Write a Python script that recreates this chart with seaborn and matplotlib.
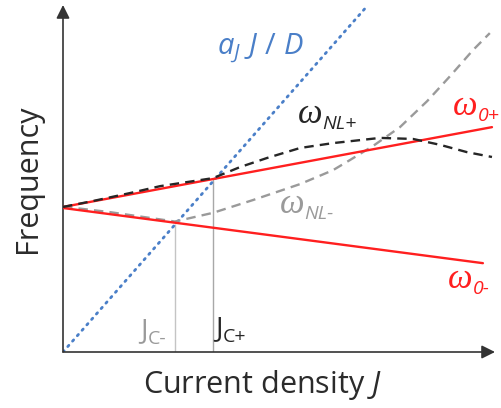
import matplotlib
matplotlib.use('Agg')
import matplotlib.pyplot as plt
import seaborn as sns

# valores (J e frequência em unidades arbitrárias)
j_w0_mais = [0.0, 9.93]
w0_mais = [4.18, 6.48]
j_w0_menos = [0.0, 9.72]
w0_menos = [4.15, 2.56]

j_aj = [0.0, 7.04]
aj_sobre_d = [0.0, 9.97]

j_nl_mais = [0, 0.69, 1.55, 2.25, 3.47, 4.10, 4.72, 5.49, 6.25, 7.34, 8.10, 8.73, 9.35, 9.93]
w_nl_mais = [4.18, 4.35, 4.58, 4.78, 5.01, 5.33, 5.59, 5.88, 6.02, 6.17, 6.14, 5.97, 5.76, 5.62]

j_nl_menos = [0, 1.09, 2.59, 3.47, 4.40, 5.49, 6.25, 6.64, 7.18, 7.80, 8.43, 8.96, 9.49, 9.88]
w_nl_menos = [4.19, 4.03, 3.76, 4.01, 4.38, 4.84, 5.24, 5.53, 5.94, 6.48, 7.23, 7.95, 8.70, 9.19]

j_criticos = [2.59, 3.47]
w_criticos = [3.70, 4.99]

vermelho = '#ff1f1f'
azul = '#4a7fc8'
cinza = '#9a9a9a'
preto = '#262626'

sns.set_style('white')
plt.rcParams['font.family'] = ['Open Sans', 'DejaVu Sans']
plt.rcParams['mathtext.fontset'] = 'custom'
plt.rcParams['mathtext.rm'] = 'Open Sans'
plt.rcParams['mathtext.it'] = 'Open Sans:italic'

fig = plt.figure(figsize=(5.02, 4.08), dpi=100)
ax = fig.add_axes([63 / 502, 56 / 408, 432 / 502, 347 / 408])
ax.set_xlim(0, 10)
ax.set_ylim(0, 10)
for s in ax.spines.values():
    s.set_visible(False)
ax.set_xticks([])
ax.set_yticks([])

# linhas verticais J_C
ax.vlines(j_criticos[0], 0, w_criticos[0], color='#c4c4c4', lw=1.0, zorder=1)
ax.vlines(j_criticos[1], 0, w_criticos[1], color='#a8a8a8', lw=1.0, zorder=1)

sns.lineplot(x=j_aj, y=aj_sobre_d, ax=ax, color=azul, lw=2.0,
             linestyle=(0, (0.6, 2.0)), dash_capstyle='round', zorder=2)
sns.lineplot(x=j_nl_menos, y=w_nl_menos, ax=ax, color=cinza, lw=1.7, sort=False,
             linestyle=(0, (4, 2.6)), zorder=3)
sns.lineplot(x=j_w0_mais, y=w0_mais, ax=ax, color=vermelho, lw=1.7, zorder=4)
sns.lineplot(x=j_w0_menos, y=w0_menos, ax=ax, color=vermelho, lw=1.7, zorder=4)
sns.lineplot(x=j_nl_mais, y=w_nl_mais, ax=ax, color=preto, lw=1.7, sort=False,
             linestyle=(0, (4, 2.6)), zorder=5)

# eixos com setas
seta = dict(arrowstyle='-|>', color='#333333', lw=1.2, mutation_scale=20,
            shrinkA=0, shrinkB=0)
ax.annotate('', xy=(1, 0), xytext=(0, 0), xycoords='axes fraction', arrowprops=seta)
ax.annotate('', xy=(0, 1), xytext=(0, 0), xycoords='axes fraction', arrowprops=seta)

ax.text(-0.81, 4.99, 'Frequency', rotation=90, ha='center', va='center',
        fontsize=22, color='#2b2b2b')
ax.text(4.61, -0.95, 'Current density $J$', ha='center', va='center',
        fontsize=22, color='#2b2b2b')

ax.text(3.56, 8.56, r'$a_J\ J\ /\ D$', color=azul, fontsize=21, va='baseline')


def rotulo(x, y, principal, sub, cor, serif=True):
    if serif:
        t = ax.text(x, y, principal, fontsize=25, family='Liberation Serif',
                    style='italic', color=cor, va='baseline')
    else:
        t = ax.text(x, y, principal, fontsize=20, color=cor, va='baseline')
    ax.annotate(sub, xy=(1, 0.22), xycoords=t, fontsize=14, color=cor,
                style='italic' if serif else 'normal', va='center', ha='left')


rotulo(5.44, 6.60, 'ω', 'NL+', preto)
rotulo(9.03, 6.83, 'ω', '0+', vermelho)
rotulo(5.02, 4.01, 'ω', 'NL-', cinza)
rotulo(8.91, 1.84, 'ω', '0-', vermelho)
rotulo(1.78, 0.40, 'J', 'C-', cinza, serif=False)
rotulo(3.52, 0.45, 'J', 'C+', preto, serif=False)

fig.savefig('out.png', dpi=100)
